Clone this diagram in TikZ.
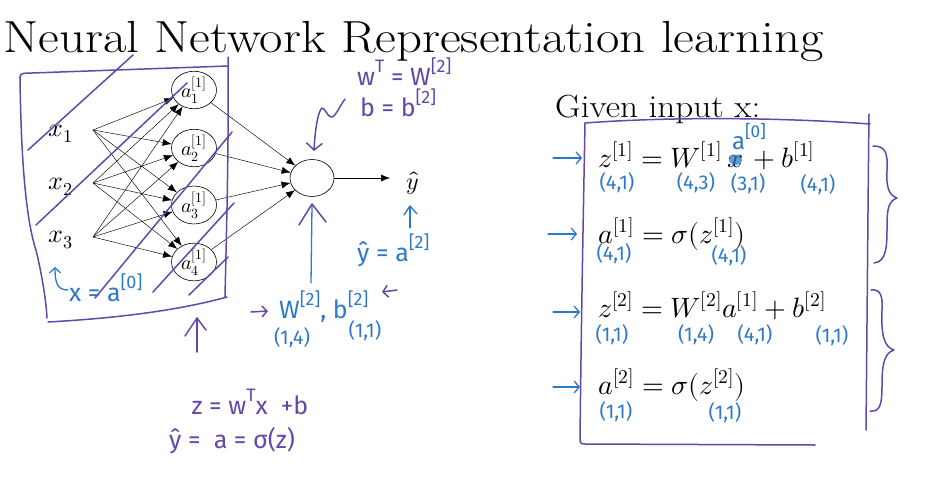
\documentclass[tikz,border=0pt]{standalone}
\usepackage{fontspec}
\usepackage{unicode-math}
\setmainfont{Latin Modern Roman}
\setmathfont{Latin Modern Math}
\newfontfamily\hand{Fira Sans}
\usetikzlibrary{arrows.meta,shapes.geometric}
\definecolor{pur}{RGB}{100,72,168}
\definecolor{blu}{RGB}{45,120,200}
\newcommand\hup[1]{\raisebox{0.5em}{\scalebox{0.72}{#1}}}
\begin{document}
\begin{tikzpicture}[x=1pt,y=-1pt,
  neuron/.style={draw, ellipse, minimum width=45pt, minimum height=33pt, inner sep=0pt, line width=0.6pt, font=\fontsize{20}{20}\selectfont},
  edge/.style={-{Latex[length=9pt,width=7pt]}, line width=0.45pt},
  pen/.style={pur, line width=1.5pt, line cap=round, line join=round},
  bpen/.style={blu, line width=1.3pt, line cap=round, line join=round},
  note/.style={inner sep=0pt, font=\hand\fontsize{25}{27}\selectfont},
  dim/.style={inner sep=0pt, text=blu, font=\hand\fontsize{20}{22}\selectfont},
  eq/.style={inner sep=0pt, anchor=base west, font=\fontsize{28}{30}\selectfont},
  inp/.style={inner sep=0pt, font=\fontsize{26}{28}\selectfont},
  harrow/.style={bpen, -{Straight Barb[length=5pt,width=12pt]}}
]
\useasboundingbox (0,0) rectangle (928,482);

% title
\node[inner sep=0pt, anchor=base west, font=\fontsize{45}{50}\selectfont] (title) at (3,52) {\scalebox{1.13}[1]{Neural Network Representation learning}};

% ---------- network ----------
\node[inp] (x1) at (61,134) {$x_1$};
\node[inp] (x2) at (61,187) {$x_2$};
\node[inp] (x3) at (61,240) {$x_3$};
\coordinate (s1) at (93,130);
\coordinate (s2) at (93,183);
\coordinate (s3) at (93,237);

\node[neuron] (h1) at (194,90)  {$a^{[1]}_1$};
\node[neuron] (h2) at (194,148) {$a^{[1]}_2$};
\node[neuron] (h3) at (194,205) {$a^{[1]}_3$};
\node[neuron] (h4) at (194,262) {$a^{[1]}_4$};

\foreach \s in {s1,s2,s3}
  \foreach \h in {h1,h2,h3,h4}
    \draw[edge] (\s) -- (\h);

\node[draw, ellipse, minimum width=44pt, minimum height=37pt, inner sep=0pt, line width=0.6pt] (out) at (312,178) {};
\foreach \h in {h1,h2,h3,h4}
  \draw[edge] (\h) -- (out);

\node[inner sep=0pt, font=\fontsize{24}{26}\selectfont] (yhat) at (413,183) {$\hat{y}$};
\draw[edge] (out.east) -- (390,178);

% ---------- purple box round the hidden layer ----------
\draw[pen] (20,77) .. controls (20,73) and (24,73) .. (32,73) -- (228,66);
\draw[pen] (228,57) .. controls (229,150) and (226,250) .. (225,297);
\draw[pen] (20,77) .. controls (21,160) and (26,220) .. (36,250) .. controls (42,275) and (46,300) .. (47,318);
\draw[pen] (48,322) .. controls (120,318) and (180,310) .. (227,297);
% strikes
\draw[pen] (28,150) -- (133,55);
\draw[pen] (36,225) -- (187,83);
\draw[pen] (95,298) -- (232,132);
\draw[pen] (153,292) -- (234,203);
\draw[pen] (189,295) -- (228,257);

% x = a[0]
\draw[bpen, -{Straight Barb[length=5pt,width=11pt]}] (68,290) .. controls (58,290) and (55,284) .. (55,267);
\node[note, text=blu, anchor=base west] (xa0) at (69,301) {x = a\hup{[0]}};

% ---------- annotations near the output ----------
\node[note, text=pur, anchor=base west] (wT) at (357,85) {w\hup{T} = W\hup{[2]}};
\node[note, text=pur, anchor=base west] (bb) at (360,116) {b = b\hup{[2]}};
\draw[pen, -{Straight Barb[length=7pt,width=16pt]}] (345,99) .. controls (339,107) and (335,118) .. (331,117) .. controls (327,116) and (325,108) .. (322,108) .. controls (318,111) and (315,130) .. (314,151);

\draw[bpen] (311,283) -- (312,205);
\draw[pen] (299,225) -- (312,204) -- (326,222);

\draw[bpen] (410,228) -- (410,207);
\draw[bpen] (404,215) -- (410,206) -- (417,214);
\node[note, text=blu, anchor=base west] (ya2) at (357,261) {ŷ = a\hup{[2]}};

\draw[pen, -{Straight Barb[length=5pt,width=11pt]}] (251,312) -- (268,311);
\node[note, text=blu, anchor=base west] (Wb) at (279,318) {W\hup{[2]}, b\hup{[2]}};
\draw[pen, -{Straight Barb[length=5pt,width=12pt]}] (397,290) -- (382,292);
\node[dim] (d14) at (292,338) {(1,4)};
\node[dim] (d11) at (365,331) {(1,1)};

\draw[pen] (197,352) -- (197,318);
\draw[pen] (185,336) -- (197,318) -- (206,330);
\node[note, text=pur] (zeq) at (250,402) {z = w\hup{T}x \ +b};
\node[note, text=pur] (yeq) at (232,441) {ŷ =\ \ a = σ(z)};

% ---------- right part ----------
\node[inner sep=0pt, anchor=base west, font=\fontsize{32}{36}\selectfont] (given) at (555,117) {\scalebox{1.1}[1]{Given input x:}};

\draw[pen] (585,123) .. controls (650,118) and (760,116) .. (870,124);
\draw[pen] (869,114) .. controls (868,200) and (867,330) .. (866,430);
\draw[pen] (585,123) .. controls (583,230) and (581,340) .. (580,441) .. controls (580,444) and (582,444) .. (585,444) -- (815,445);

% equation 1
\node[eq] (e1a) at (598,167) {$z^{[1]} = W^{[1]}$};
\node[eq] (e1x) at ([xshift=5pt]e1a.base east) {$x$};
\node[eq] (e1b) at ([xshift=3pt]e1x.base east) {${}+b^{[1]}$};
\fill[blu, opacity=0.75] ([yshift=1pt]e1x.center) ellipse (6.5pt and 5pt);
\node[dim, font=\hand\fontsize{24}{26}\selectfont] (a0) at (749,137) {a\hup{[0]}};
% equation 2
\node[eq] (e2) at (598,243) {$a^{[1]} = \sigma(z^{[1]})$};
% equation 3
\node[eq] (e3) at (598,317) {$z^{[2]} = W^{[2]}a^{[1]} + b^{[2]}$};
% equation 4
\node[eq] (e4) at (598,394) {$a^{[2]} = \sigma(z^{[2]})$};

% arrows at the left
\draw[harrow] (553,158) -- (582,158);
\draw[harrow] (548,234) -- (577,234);
\draw[harrow] (553,312) -- (580,312);
\draw[harrow] (553,387) -- (580,387);

% dims
\node[dim] at (617,183) {(4,1)};
\node[dim] at (696,183) {(4,3)};
\node[dim] at (748,184) {(3,1)};
\node[dim] at (818,185) {(4,1)};
\node[dim] at (614,254) {(4,1)};
\node[dim] at (729,256) {(4,1)};
\node[dim] at (612,335) {(1,1)};
\node[dim] at (696,335) {(1,4)};
\node[dim] at (755,335) {(4,1)};
\node[dim] at (832,336) {(1,1)};
\node[dim] at (616,412) {(1,1)};
\node[dim] at (725,413) {(1,1)};

% braces
\draw[pen] (873,146) .. controls (885,146) and (888,152) .. (887,170) .. controls (886,188) and (889,195) .. (897,198) .. controls (889,201) and (887,208) .. (887,225) .. controls (887,245) and (887,262) .. (874,263);
\draw[pen] (871,290) .. controls (880,289) and (883,295) .. (882,310) .. controls (881,335) and (884,347) .. (894,350) .. controls (884,353) and (882,365) .. (882,385) .. controls (882,405) and (880,412) .. (870,411);
\end{tikzpicture}
\end{document}
